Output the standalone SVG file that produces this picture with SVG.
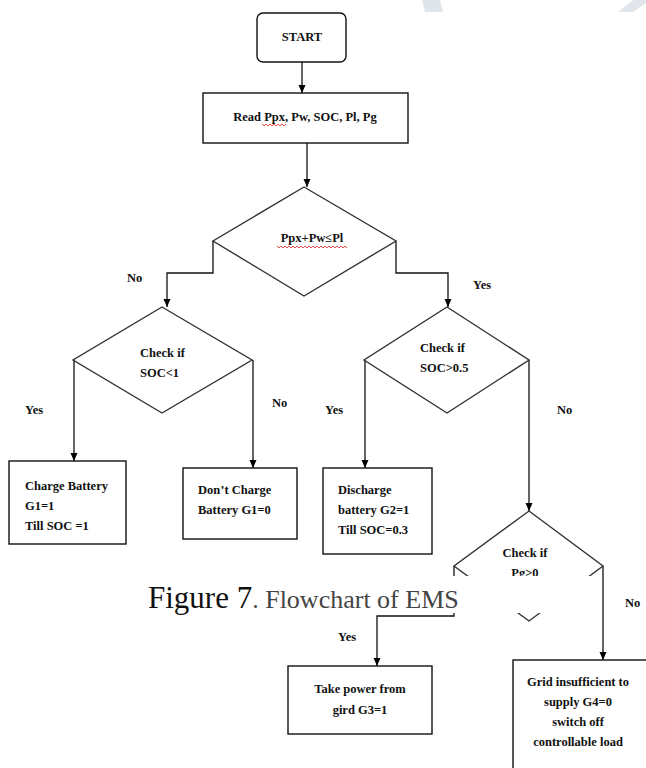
<svg xmlns="http://www.w3.org/2000/svg" width="646" height="768" viewBox="0 0 646 768">
<defs>
<marker id="ah" markerUnits="userSpaceOnUse" markerWidth="9" markerHeight="8" refX="8" refY="3.5" orient="auto">
<path d="M0,0 L8,3.5 L0,7 z" fill="#000"/>
</marker>
<style>
.box{fill:#fff;stroke:#111;stroke-width:1.4}
.dia{fill:none;stroke:#333;stroke-width:1.4}
.con{fill:none;stroke:#111;stroke-width:1.3;marker-end:url(#ah)}
.t{font-family:"Liberation Serif","Times New Roman",serif;font-weight:bold;font-size:12.5px;fill:#111}
.m{text-anchor:middle}
.wavy{fill:none;stroke:#e02020;stroke-width:0.8}
.wm{fill:#dfe5ea}
</style>
</defs>
<rect width="646" height="768" fill="#fff"/>
<polygon class="wm" points="422,0 440,0 443,12 425,12"/>
<polygon class="wm" points="633,0 646,0 646,3 633,12 618,12"/>

<g id="connectors">
<path class="con" d="M302,62 V93"/>
<path class="con" d="M307,143 V187"/>
<path class="con" d="M213,241 V273 H167 V307"/>
<path class="con" d="M396,241 V273 H448 V307"/>
<path class="con" d="M74,360 V461"/>
<path class="con" d="M253,360 V468"/>
<path class="con" d="M365,360 V468"/>
<path class="con" d="M529,360 V511"/>
<path class="con" d="M454,566 V616 H377 V666"/>
<path class="con" d="M603,566 V660"/>
</g>

<g id="start">
<rect class="box" x="257" y="13" width="89" height="49" rx="6"/>
<text class="t m" x="302" y="41">START</text>
</g>

<g id="read">
<rect class="box" x="203" y="93" width="205" height="50"/>
<text class="t m" x="305" y="121">Read Ppx, Pw, SOC, Pl, Pg</text>
<path class="wavy" d="M262,124 l2,2 l2,-2 l2,2 l2,-2 l2,2 l2,-2 l2,2 l2,-2 l2,2 l2,-2 l2,2 l2,-2"/>
</g>

<g id="decision1">
<polygon class="dia" points="304,187 396,241 304,296 213,241"/>
<text class="t m" x="312" y="242">Ppx+Pw≤Pl</text>
<path class="wavy" d="M277,246 l2,2 l2,-2 l2,2 l2,-2 l2,2 l2,-2 l2,2 l2,-2 l2,2 l2,-2 l2,2 l2,-2 l2,2 l2,-2 l2,2 l2,-2 l2,2 l2,-2 l2,2 l2,-2 l2,2 l2,-2 l2,2 l2,-2 l2,2 l2,-2 l2,2 l2,-2 l2,2 l2,-2 l2,2 l2,-2 l2,2 l2,-2 l2,2"/>
</g>

<g id="labels">
<text class="t" x="127" y="282">No</text>
<text class="t" x="473" y="289">Yes</text>
<text class="t" x="25" y="414">Yes</text>
<text class="t" x="272" y="407">No</text>
<text class="t" x="325" y="414">Yes</text>
<text class="t" x="557" y="414">No</text>
<text class="t" x="338" y="641">Yes</text>
<text class="t" x="625" y="607">No</text>
</g>

<g id="decision-soc1">
<polygon class="dia" points="162,307 252,360 162,413 73,360"/>
<text class="t" x="140" y="357">Check if</text>
<text class="t" x="140" y="377">SOC&lt;1</text>
</g>

<g id="decision-soc05">
<polygon class="dia" points="447,307 529,360 447,413 364,360"/>
<text class="t" x="420" y="352">Check if</text>
<text class="t" x="420" y="372">SOC&gt;0.5</text>
</g>

<g id="charge">
<rect class="box" x="9" y="461" width="117" height="83"/>
<text class="t" x="25" y="490">Charge Battery</text>
<text class="t" x="25" y="510">G1=1</text>
<text class="t" x="25" y="530">Till SOC =1</text>
</g>

<g id="dont-charge">
<rect class="box" x="183" y="468" width="114" height="71"/>
<text class="t" x="198" y="494">Don’t Charge</text>
<text class="t" x="198" y="514">Battery G1=0</text>
</g>

<g id="discharge">
<rect class="box" x="323" y="468" width="109" height="86"/>
<text class="t" x="338" y="494">Discharge</text>
<text class="t" x="338" y="514">battery G2=1</text>
<text class="t" x="338" y="534">Till SOC=0.3</text>
</g>

<g id="decision-pg">
<polygon class="dia" points="529,511 603,566 529,621 454,566"/>
<text class="t m" x="525" y="557">Check if</text>
<text class="t m" x="525" y="577">Pg&gt;0</text>
</g>

<g id="take-power">
<rect class="box" x="288" y="666" width="144" height="68"/>
<text class="t m" x="360" y="693">Take power from</text>
<text class="t m" x="360" y="714">gird G3=1</text>
</g>

<g id="grid-insufficient">
<rect class="box" x="513" y="660" width="140" height="120"/>
<text class="t m" x="578" y="686">Grid insufficient to</text>
<text class="t m" x="578" y="706">supply G4=0</text>
<text class="t m" x="578" y="726">switch off</text>
<text class="t m" x="578" y="746">controllable load</text>
</g>

<g id="caption">
<rect x="140" y="576" width="457" height="37" fill="#fff"/>
<text x="148" y="608" font-family="Liberation Serif, 'Times New Roman', serif"><tspan font-size="31" fill="#111">Figure 7</tspan><tspan font-size="26" fill="#444">. Flowchart of EMS</tspan></text>
</g>
</svg>
